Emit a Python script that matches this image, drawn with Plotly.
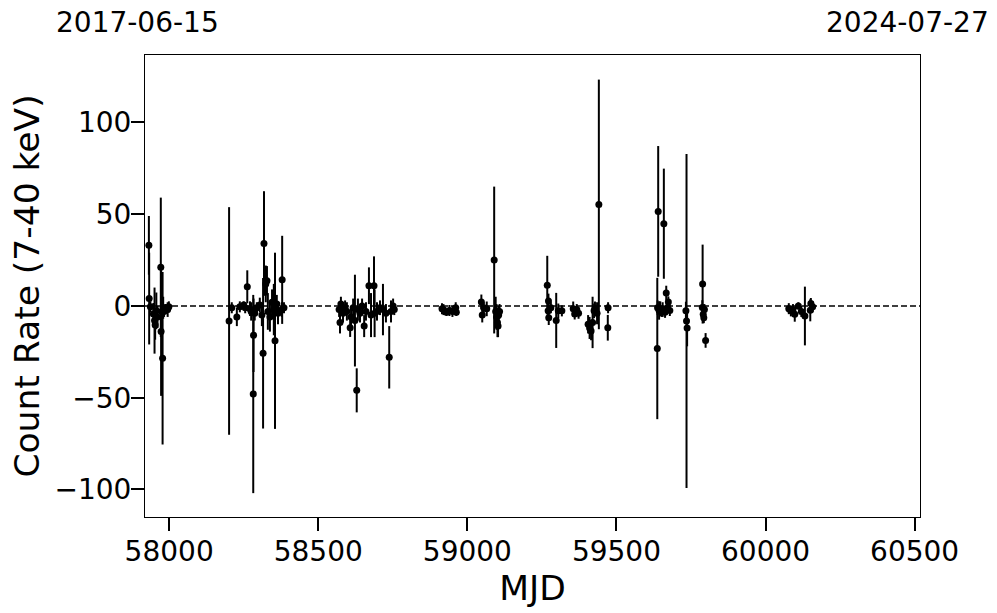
import plotly.graph_objects as go

# ---- data ----
mjd = [
    57932, 57933, 57937, 57947, 57951, 57953, 57957, 57961, 57972, 57973, 57978, 57975, 57980, 57983, 57988, 57995, 57999,
    58201, 58210, 58227, 58237, 58250, 58255, 58262, 58271, 58275, 58282, 58283, 58287, 58294, 58304, 58311, 58315, 58318,
    58324, 58328, 58331, 58338, 58345, 58351, 58355, 58361, 58365, 58379, 58378, 58385,
    58570, 58573, 58576, 58583, 58590, 58596, 58607, 58610, 58617, 58623, 58629, 58633, 58640, 58647, 58654, 58660, 58670,
    58677, 58687, 58689, 58697, 58707, 58717, 58727, 58738, 58744, 58751, 58755,
    58915, 58920, 58930, 58940, 58950, 58961, 58963,
    59047, 59050, 59055, 59065, 59090, 59095, 59098, 59101, 59103, 59105, 59108,
    59268, 59272, 59271, 59273, 59280, 59298, 59305, 59317,
    59355, 59360, 59367, 59373,
    59405, 59410, 59415, 59420, 59425, 59428, 59441, 59435, 59471, 59472,
    59640, 59637, 59659, 59667, 59674, 59638, 59643, 59647, 59651, 59655, 59663, 59670, 59679,
    59733, 59735, 59737, 59789, 59788, 59791, 59793, 59799, 59795,
    60078, 60085, 60092, 60098, 60110, 60120, 60132, 60150, 60152, 60158,
]
rate = [
    33, 4, -0.5, -4.4, -8, -10.4, -2.7, -6, 21, -14, -28.5, -3, -1, -3, -1, -2, -0.5,
    -8.2, -1, -6, -0.5, 0.5, -1, 10.4, -1.5, -3, -48, -16, -4, -1, 0.5, -5, -25.8, 34,
    12, 13.7, -3, -6, 2, -2, -19, 1, -4, 14.2, -2, -1,
    -2, -9, 1, -4, -1, -3, -11.9, -6, -1, -8, -46, -2, -4, 0, -11, -3, 11,
    -5, 11, -4, -3, -1, -2, -4, -28, -3, 0, -2,
    -1.5, -2, -3.5, -2.5, -3, -1, -3.5,
    2.2, -5, -1, -1.6, 25, -3, -6, -9, -11, -5, -3,
    11.3, 2.7, -2.7, -6.4, -1, -7.9, -2.7, -2.7,
    -1.6, -4.4, -2, -4,
    -10, -12, -13.7, -9, -2.7, -1.6, 55.3, -4, -11.9, -1,
    51.5, -23.2, 44.8, 7, 2.2, -1, -2.5, -1.5, -3, -2, -3.5, -1, -2.5,
    -2.7, -8.2, -12, 11.9, -0.9, -4.5, -6.4, -18.8, -2,
    -1.5, -2.7, -2, -4.6, 0, -3, -5.5, -2.4, 1.3, -0.5,
]
rate_err = [
    16, 25, 3, 6, 18, 8, 10, 6, 38, 35, 47, 4, 6, 3, 2, 4, 3,
    62, 3, 5, 3, 2, 3, 9, 4, 5, 54, 20, 4, 3, 4, 6, 41, 28.5,
    10, 8, 10, 8, 7, 14, 48, 5, 6, 24, 4, 3,
    4, 6, 4, 5, 4, 5, 5, 6, 5, 25, 12, 6, 5, 4, 6, 5, 10,
    12, 16, 13, 5, 4, 14, 5, 17, 6, 4, 3,
    3, 3, 2, 3, 3, 3, 2,
    4, 4, 3, 4, 40, 8, 7, 8, 6, 5, 4,
    16, 4, 5, 4, 3, 15, 4, 3,
    4, 3, 3, 3,
    5, 6, 5, 14, 4, 4, 68, 6, 7, 3,
    35.6, 38.5, 30, 4, 3, 4, 5, 4, 3, 4, 3, 3, 3,
    5, 91, 10, 21.5, 4, 4, 3, 4, 3,
    3, 3, 3, 4, 2, 3, 16, 6, 3, 3,
]

x_ticks = [58000, 58500, 59000, 59500, 60000, 60500]
y_ticks = [-100, -50, 0, 50, 100]
x_range = [57919, 60518]
y_range = [-115, 136.7]
start_label = "2017-06-15"
end_label = "2024-07-27"

FONT = "DejaVu Sans"

fig = go.Figure()
fig.add_trace(go.Scatter(
    x=mjd, y=rate, mode="markers",
    marker=dict(color="black", size=7, line=dict(width=0)),
    error_y=dict(type="data", array=rate_err, visible=True,
                 color="black", thickness=2, width=0),
    showlegend=False,
))

fig.add_shape(type="line", xref="paper", x0=0, x1=1, yref="y", y0=0, y1=0,
              line=dict(color="black", width=1.5, dash="6px,3px"), layer="below")

fig.add_annotation(text=start_label, xref="paper", yref="paper", x=-0.0103, y=1.0714,
                   xanchor="center", yanchor="middle", showarrow=False,
                   font=dict(family=FONT, size=28, color="black"))
fig.add_annotation(text=end_label, xref="paper", yref="paper", x=0.984, y=1.0714,
                   xanchor="center", yanchor="middle", showarrow=False,
                   font=dict(family=FONT, size=28, color="black"))

axis_common = dict(
    showline=True, linecolor="black", linewidth=1, mirror=True,
    showgrid=False, zeroline=False,
    ticks="outside", ticklen=13, tickwidth=2, tickcolor="black",
    tickfont=dict(family=FONT, size=28, color="black"),
)

fig.update_layout(
    width=997, height=613,
    margin=dict(l=145, r=77, t=55, b=96, autoexpand=False),
    paper_bgcolor="white", plot_bgcolor="white",
    font=dict(family=FONT, color="black"),
    xaxis=dict(range=x_range, tickvals=x_ticks, ticktext=[str(v) for v in x_ticks],
               ticklabelstandoff=-4,
               title=dict(text="MJD", font=dict(family=FONT, size=34.5), standoff=6),
               **axis_common),
    yaxis=dict(range=y_range, tickvals=y_ticks,
               ticktext=[("\u2212" + str(-v)) if v < 0 else str(v) for v in y_ticks],
               ticklabelstandoff=-6,
               title=dict(text="Count Rate (7-40 keV)", font=dict(family=FONT, size=34.5), standoff=4),
               **axis_common),
)

# remove the browser's default 8px body margin so the figure fills the window
fig.write_html("out.html", config={"displayModeBar": False},
               post_script="document.body.style.margin='0';")
